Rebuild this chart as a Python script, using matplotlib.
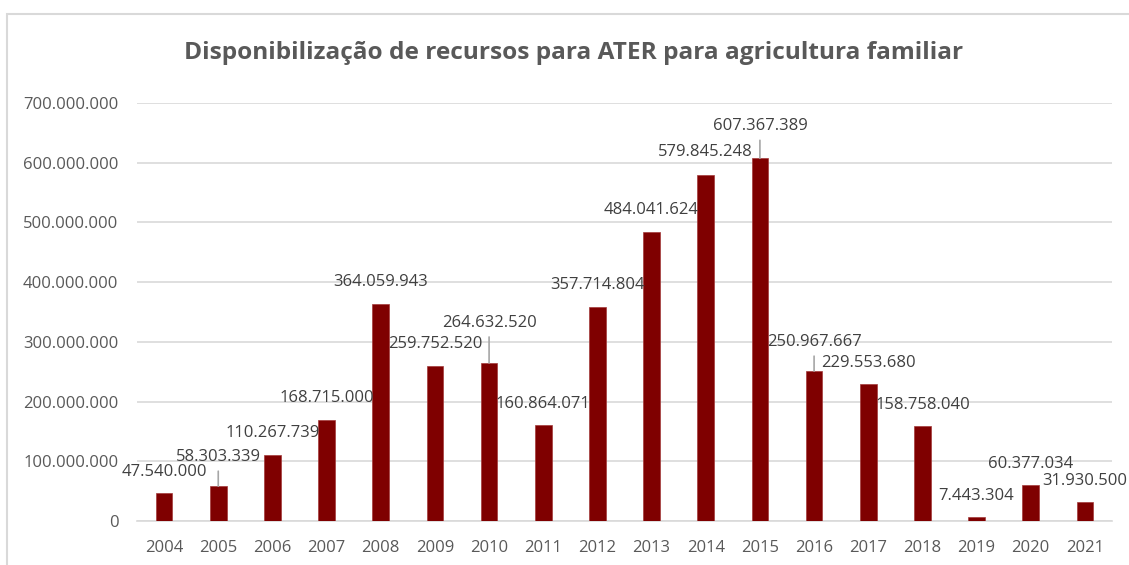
import matplotlib
matplotlib.use("Agg")
import matplotlib.pyplot as plt
from matplotlib.patches import Rectangle

# data
anos = ["2004", "2005", "2006", "2007", "2008", "2009", "2010", "2011", "2012",
        "2013", "2014", "2015", "2016", "2017", "2018", "2019", "2020", "2021"]
recursos = [47540000, 58303339, 110267739, 168715000, 364059943, 259752520,
            264632520, 160864071, 357714804, 484041624, 579845248, 607367389,
            250967667, 229553680, 158758040, 7443304, 60377034, 31930500]
titulo = "Disponibilização de recursos para ATER para agricultura familiar"

# label lift above bar top (pixels); bigger ones get a leader line like Excel
label_lift = [21, 29, 22, 22, 22, 22, 40, 21, 22, 22, 23, 32, 29, 21, 21, 21, 21, 21]
leaders = {"2005", "2010", "2015", "2016"}

BAR = "#7f0000"
GRID = "#d9d9d9"
TXT = "#595959"
LBL = "#404040"


def fmt(v):
    return f"{v:,.0f}".replace(",", ".")


plt.rcParams["font.family"] = ["Open Sans", "DejaVu Sans"]

fig = plt.figure(figsize=(11.29, 5.65), dpi=100)
# outer chart frame (light gray, like the Excel chart area)
fig.patches.append(Rectangle((7 / 1129, -0.1), 1.2, 1 - 14 / 565 + 0.1,
                             transform=fig.transFigure, fill=False,
                             edgecolor=GRID, linewidth=1.5))

ax = fig.add_axes([137 / 1129, 1 - 521 / 565, (1112 - 137) / 1129, (521 - 103) / 565])
x = list(range(len(anos)))
ax.bar(x, recursos, width=0.31, color=BAR, edgecolor="#a33a3a", linewidth=0.5, zorder=3)

ax.set_xlim(-0.5, len(anos) - 0.5)
ax.set_ylim(0, 700000000)
ax.set_yticks(range(0, 700000001, 100000000))
ax.set_yticklabels([fmt(v) for v in range(0, 700000001, 100000000)])
ax.set_xticks(x)
ax.set_xticklabels(anos)
ax.tick_params(axis="both", length=0, labelsize=12, labelcolor=TXT)
ax.tick_params(axis="x", pad=14)
ax.tick_params(axis="y", pad=13.5)
ax.yaxis.grid(True, color=GRID, linewidth=1.2, zorder=0)
for s in ["top", "right", "left"]:
    ax.spines[s].set_visible(False)
ax.spines["bottom"].set_color(GRID)
ax.spines["bottom"].set_linewidth(1.2)
ax.spines["bottom"].set_zorder(1)

for xi, ano, v, lift in zip(x, anos, recursos, label_lift):
    ax.annotate(fmt(v), (xi, v), xytext=(0, lift), textcoords="offset pixels",
                ha="center", va="center", fontsize=12, color=LBL, zorder=5)
    if ano in leaders:
        ax.annotate("", (xi, v), xytext=(0, lift - 14), textcoords="offset pixels",
                    arrowprops=dict(arrowstyle="-", color="#a6a6a6", lw=1.2,
                                    shrinkA=0, shrinkB=0), zorder=4)

fig.text(574 / 1129, 1 - 53 / 565, titulo, ha="center", va="center",
         fontsize=17.6, fontweight="bold", color=TXT)

fig.savefig("out.png", dpi=100, facecolor="white")
